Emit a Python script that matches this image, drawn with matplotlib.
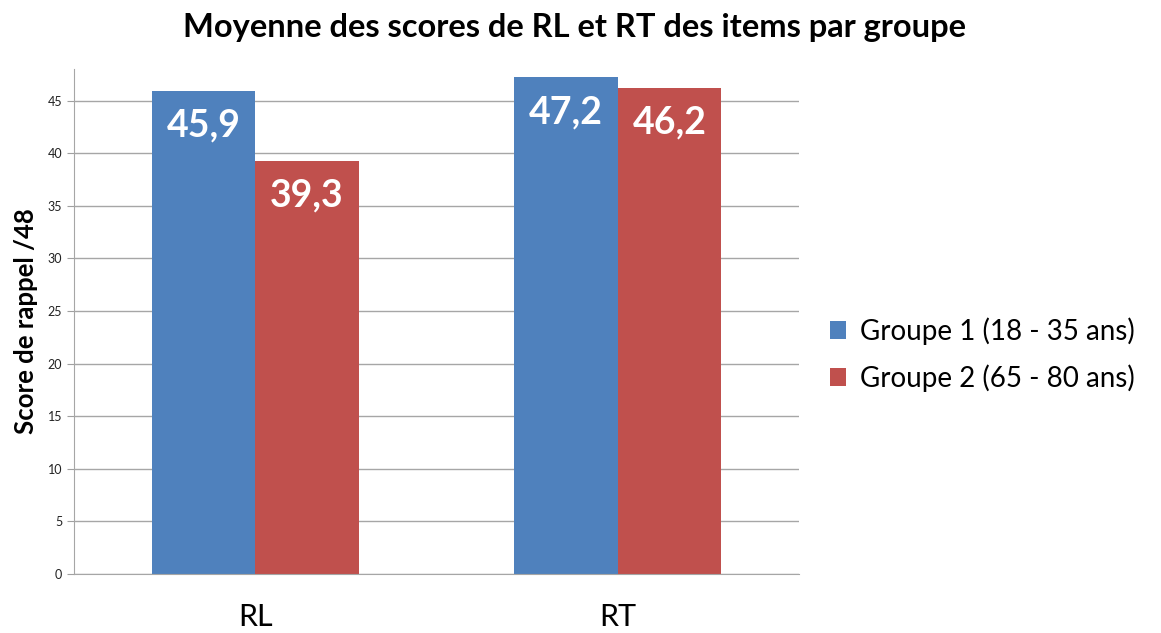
import numpy as np
import matplotlib.pyplot as plt

categories = ["RL", "RT"]
groupe1 = [45.9, 47.2]
groupe2 = [39.3, 46.2]
series_names = ["Groupe 1 (18 - 35 ans)", "Groupe 2 (65 - 80 ans)"]
colors = ["#4F81BD", "#C0504D"]

plt.rcParams['font.family'] = ['Lato', 'DejaVu Sans']

fig = plt.figure(figsize=(11.61, 6.33), dpi=100)
ax = fig.add_axes([0.0637, 0.0932, 0.6245, 0.7978])

x = np.arange(len(categories))
w = 0.2857
b1 = ax.bar(x - w / 2, groupe1, w, color=colors[0], label=series_names[0], zorder=2)
b2 = ax.bar(x + w / 2, groupe2, w, color=colors[1], label=series_names[1], zorder=2)

for bars, vals in [(b1, groupe1), (b2, groupe2)]:
    for rect, v in zip(bars, vals):
        ax.annotate(f"{v:.1f}".replace(".", ","),
                    (rect.get_x() + rect.get_width() / 2, v),
                    xytext=(0, -25), textcoords="offset points",
                    ha="center", va="center", color="white",
                    fontsize=27, fontweight="bold", zorder=3)

ax.set_xlim(-0.5, 1.5)
ax.set_ylim(0, 48)
ax.set_yticks(np.arange(0, 46, 5))
ax.set_xticks(x)
ax.set_xticklabels(categories, fontsize=22)
ax.tick_params(axis='x', length=0, pad=21)
ax.tick_params(axis='y', labelsize=9, length=5, color="#A0A0A0", labelcolor="#222222")
ax.grid(axis='y', color="#A6A6A6", linewidth=1, zorder=0)
for s in ["top", "right"]:
    ax.spines[s].set_visible(False)
for s in ["left", "bottom"]:
    ax.spines[s].set_color("#A6A6A6")

ax.set_ylabel("Score de rappel /48", fontsize=18.5, fontweight="bold", labelpad=7)
fig.suptitle("Moyenne des scores de RL et RT des items par groupe",
             x=0.495, y=0.98, fontsize=23.5, fontweight="bold")

fig.legend(loc="center left", bbox_to_anchor=(0.693, 0.44), frameon=False,
           fontsize=20, handlelength=0.6, handleheight=0.6, handletextpad=0.5,
           labelspacing=0.7)

fig.savefig("out.png", dpi=100)
